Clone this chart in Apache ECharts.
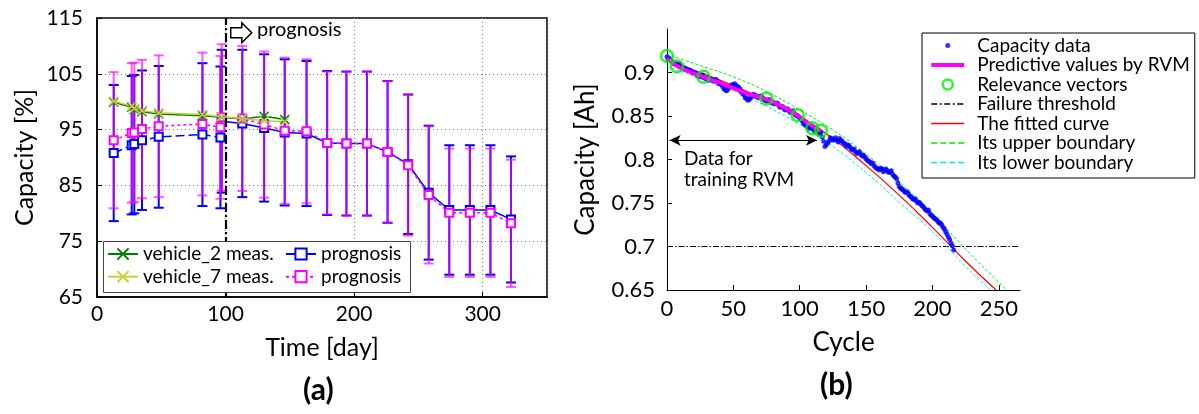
<!DOCTYPE html>
<html><head><meta charset="utf-8">
<script src="https://cdn.jsdelivr.net/npm/echarts@6/dist/echarts.min.js"></script>
<style>html,body{margin:0;padding:0;background:#fff}#c{width:1199px;height:414px}</style>
</head><body><div id="c"></div>
<script>
// ---------- Panel (a) data ----------
const daysMeas = [13, 27, 29, 35, 48, 82, 97, 113, 130, 146];
const v2Meas = [99.9, 99.0, 98.6, 98.2, 97.8, 97.5, 97.2, 96.9, 97.4, 96.8];
const v7Meas = [100.1, 99.2, 98.8, 98.4, 98.0, 97.7, 97.3, 97.0, 96.6, 96.4];
const daysPre = [13, 27, 29, 35, 48, 82, 96];
const bluePre = [90.8, 92.2, 92.4, 93.1, 93.7, 94.1, 93.6];
const bluePreErr = [12.2, 12.4, 12.4, 12.5, 12.7, 12.8, 12.7];
const magPre = [93.1, 94.4, 94.5, 95.1, 95.6, 96.0, 95.4];
const magPreErr = [12.2, 12.5, 12.5, 12.4, 12.7, 12.8, 12.8];
const daysPro = [97, 113, 130, 146, 163, 179, 194, 210, 226, 242, 258, 274, 290, 306, 322];
const bluePro = [96.5, 96.1, 95.3, 94.5, 94.3, 92.6, 92.5, 92.5, 91.0, 88.8, 83.7, 80.6, 80.6, 80.6, 78.9];
const blueProErr = [12.8, 13.2, 13.2, 13.1, 13.0, 12.9, 12.9, 12.9, 12.7, 12.5, 12.0, 11.6, 11.6, 11.6, 11.3];
const magPro = [97.2, 97.0, 95.9, 94.8, 94.7, 92.6, 92.5, 92.5, 91.0, 88.6, 83.3, 80.1, 80.1, 80.1, 78.2];
const magProErr = [13.1, 13.0, 13.1, 13.1, 12.9, 12.8, 12.9, 12.9, 12.7, 12.6, 12.3, 11.5, 11.5, 11.5, 11.4];
const prognosisDay = 100;

// ---------- Panel (b) data ----------
const capCycles = [0,2,4,6,8,10,12,14,16,18,20,22,24,26,28,30,32,34,36,38,40,42,44,46,48,50,52,54,56,58,60,62,64,66,68,70,72,74,76,78,80,82,84,86,88,90,92,94,96,98,100,102,104,106,108,110,112,114,116,118,120,122,124,126,128,130,132,134,136,138,140,142,144,146,148,150,152,154,156,158,160,162,164,166,168,170,172,174,176,178,180,182,184,186,188,190,192,194,196,198,200,202,204,206,208,210,212,214,216];
const capValues = [0.918,0.916,0.912,0.911,0.909,0.908,0.906,0.905,0.903,0.902,0.900,0.899,0.897,0.896,0.894,0.894,0.893,0.892,0.891,0.890,0.888,0.884,0.880,0.881,0.884,0.886,0.885,0.883,0.878,0.874,0.870,0.869,0.873,0.874,0.873,0.872,0.871,0.869,0.868,0.867,0.866,0.864,0.863,0.861,0.859,0.858,0.856,0.855,0.853,0.851,0.848,0.844,0.840,0.838,0.837,0.835,0.834,0.833,0.831,0.821,0.817,0.821,0.824,0.823,0.822,0.824,0.821,0.818,0.817,0.814,0.811,0.809,0.808,0.806,0.805,0.801,0.798,0.795,0.793,0.790,0.788,0.789,0.788,0.787,0.786,0.783,0.780,0.773,0.767,0.765,0.762,0.760,0.757,0.754,0.752,0.751,0.747,0.744,0.741,0.738,0.735,0.732,0.729,0.727,0.722,0.717,0.711,0.704,0.696];
const capCycles2 = [1,3,5,7,9,11,13,15,17,19,21,23,25,27,29,31,33,35,37,39,41,43,45,47,49,51,53,55,57,59,61,63,65,67,69,71,73,75,77,79,81,83,85,87,89,91,93,95,97,99,101,103,105,107,109,111,113,115,117,119,121,123,125,127,129,131,133,135,137,139,141,143,145,147,149,151,153,155,157,159,161,163,165,167,169,171,173,175,177,179,181,183,185,187,189,191,193,195,197,199,201,203,205,207,209,211,213,215];
const capValues2 = [0.915,0.914,0.910,0.909,0.910,0.906,0.904,0.903,0.903,0.900,0.899,0.896,0.895,0.897,0.893,0.891,0.892,0.890,0.892,0.887,0.886,0.881,0.879,0.883,0.886,0.887,0.884,0.881,0.876,0.871,0.868,0.871,0.875,0.872,0.871,0.873,0.869,0.867,0.869,0.865,0.864,0.865,0.860,0.861,0.857,0.858,0.854,0.856,0.851,0.849,0.846,0.841,0.839,0.836,0.838,0.833,0.835,0.830,0.826,0.815,0.819,0.825,0.822,0.825,0.820,0.822,0.819,0.815,0.816,0.812,0.812,0.807,0.809,0.804,0.803,0.799,0.797,0.796,0.791,0.789,0.790,0.786,0.789,0.785,0.787,0.781,0.778,0.769,0.766,0.763,0.763,0.758,0.755,0.755,0.750,0.749,0.746,0.742,0.742,0.736,0.733,0.731,0.727,0.725,0.720,0.714,0.708,0.701];
const rvmCycles = [0, 7, 15, 27, 40, 50, 60, 75, 88, 100, 110, 116];
const rvmValues = [0.916, 0.908, 0.902, 0.895, 0.888, 0.882, 0.876, 0.869, 0.860, 0.849, 0.838, 0.833];
const relCycles = [0, 7.5, 27.5, 75, 98.5, 109.5, 116];
const relValues = [0.919, 0.907, 0.895, 0.870, 0.851, 0.836, 0.833];
const fitCycles = [0, 25, 50, 75, 100, 125, 150, 175, 200, 225, 248];
const fitValues = [0.914, 0.900, 0.885, 0.868, 0.849, 0.824, 0.793, 0.759, 0.722, 0.683, 0.650];
const upCycles = [0, 25, 50, 75, 100, 125, 150, 175, 200, 225, 256];
const upValues = [0.921, 0.908, 0.895, 0.878, 0.857, 0.834, 0.806, 0.774, 0.738, 0.697, 0.650];
const lowCycles = [0, 25, 50, 75, 100, 125, 150, 175, 200, 225, 244];
const lowValues = [0.907, 0.893, 0.879, 0.861, 0.840, 0.815, 0.785, 0.751, 0.717, 0.677, 0.650];
const threshold = 0.7;
const cycleRange = [0, 266];
const trainArrow = {from: 2, to: 113, y: 0.822};

const F = 'Lato, "DejaVu Sans", sans-serif';
const zip = (xs, ys) => xs.map((x, i) => [x, ys[i]]);
const errData = (xs, ys, es) => xs.map((x, i) => [x, ys[i] - es[i], ys[i] + es[i]]);

function errRender(color, opacity) {
  return function (params, api) {
    const x = api.value(0), lo = api.value(1), hi = api.value(2);
    const a = api.coord([x, lo]), b = api.coord([x, hi]);
    const w = 5;
    const st = {stroke: color, lineWidth: 2, opacity: opacity};
    return {type: 'group', children: [
      {type: 'line', shape: {x1: a[0], y1: a[1], x2: b[0], y2: b[1]}, style: st},
      {type: 'line', shape: {x1: a[0] - w, y1: a[1], x2: a[0] + w, y2: a[1]}, style: st},
      {type: 'line', shape: {x1: b[0] - w, y1: b[1], x2: b[0] + w, y2: b[1]}, style: st}
    ]};
  };
}
const XSYM = 'path://M0,0L10,10M10,0L0,10';
const BOX = 'path://M0 0M33 14';
const ICON_SOLID = BOX + 'M0 6.3h33v1.4h-33z';
const ICON_THICK = BOX + 'M0 5h33v4h-33z';
const ICON_DASH = BOX + 'M0 6.3h6v1.4h-6zM9 6.3h6v1.4h-6zM18 6.3h6v1.4h-6zM27 6.3h6v1.4h-6z';
const ICON_DASHDOT = BOX + 'M0 6.2h6v1.6h-6zM8.5 6.2h2v1.6h-2zM13 6.2h6v1.6h-6zM21.5 6.2h2v1.6h-2zM26 6.2h6v1.6h-6z';
const fmt2 = v => String(Math.round(v * 100) / 100);
const legA = {orient: 'vertical', top: 244.5, itemWidth: 30, itemHeight: 14, itemGap: 3.7, padding: 0, z: 10,
  textStyle: {fontSize: 19, color: '#000', fontFamily: F}, formatter: n => n.trim(), selectedMode: false};

const chart = echarts.init(document.getElementById('c'), null, {renderer: 'canvas'});
const option = {
  animation: false,
  textStyle: {fontFamily: F, color: '#000'},
  grid: [
    {left: 97, top: 18, width: 450, height: 279, show: true, borderColor: '#000', borderWidth: 1.5},
    {left: 667, top: 29, width: 353, height: 261}
  ],
  xAxis: [
    {gridIndex: 0, type: 'value', min: 0, max: 350, interval: 100,
     axisLine: {show: true, lineStyle: {color: '#000', width: 1.5}},
     axisTick: {show: true, inside: true, length: 5, lineStyle: {color: '#000'}},
     axisLabel: {color: '#000', fontSize: 21, margin: 7, showMaxLabel: false, fontFamily: F},
     splitLine: {show: true, lineStyle: {color: '#777', type: [1, 3], width: 1}},
     name: 'Time [day]', nameLocation: 'middle', nameGap: 38,
     nameTextStyle: {fontSize: 25, color: '#000', fontFamily: F}},
    {gridIndex: 1, type: 'value', min: cycleRange[0], max: cycleRange[1], interval: 50,
     axisLine: {show: true, onZero: false, lineStyle: {color: '#000', width: 1}},
     axisTick: {show: true, inside: true, length: 5, lineStyle: {color: '#000'}},
     axisLabel: {color: '#000', fontSize: 22, margin: 8, showMaxLabel: false, fontFamily: F},
     splitLine: {show: false},
     name: 'Cycle', nameLocation: 'middle', nameGap: 40,
     nameTextStyle: {fontSize: 26, color: '#000', fontFamily: F}}
  ],
  yAxis: [
    {gridIndex: 0, type: 'value', min: 65, max: 115, interval: 10,
     axisLine: {show: true, lineStyle: {color: '#000', width: 1.5}},
     axisTick: {show: true, inside: true, length: 5, lineStyle: {color: '#000'}},
     axisLabel: {color: '#000', fontSize: 21, margin: 14, fontFamily: F},
     splitLine: {show: true, lineStyle: {color: '#777', type: [1, 3], width: 1}},
     name: 'Capacity [%]', nameLocation: 'middle', nameGap: 60,
     nameTextStyle: {fontSize: 25, color: '#000', fontFamily: F}},
    {gridIndex: 1, type: 'value', min: 0.65, max: 0.95, interval: 0.05,
     axisLine: {show: true, onZero: false, lineStyle: {color: '#000', width: 1}},
     axisTick: {show: true, inside: true, length: 5, lineStyle: {color: '#000'}},
     axisLabel: {color: '#000', fontSize: 22, margin: 12, showMaxLabel: false, hideOverlap: false, fontFamily: F, formatter: fmt2},
     splitLine: {show: false},
     name: 'Capacity [Ah]', nameLocation: 'middle', nameGap: 68,
     nameTextStyle: {fontSize: 26, color: '#000', fontFamily: F}}
  ],
  legend: [
    Object.assign({}, legA, {left: 107, data: ['vehicle_2 meas.', 'vehicle_7 meas.']}),
    Object.assign({}, legA, {left: 285, data: ['prognosis', 'prognosis ']}),
    {orient: 'vertical', left: 922, top: 33, itemWidth: 33, itemHeight: 14, itemGap: 0.5,
     padding: [3, 5, 6, 8], borderColor: '#000', borderWidth: 1, backgroundColor: '#fff', z: 10,
     textStyle: {fontSize: 19, color: '#000', fontFamily: F, padding: [0, 0, 0, 8]},
     selectedMode: false,
     data: [
       {name: 'Capacity data', icon: BOX + 'M14 7a2.5 2.5 0 1 0 5 0a2.5 2.5 0 1 0 -5 0z', itemStyle: {color: '#0000ff', borderWidth: 0}},
       {name: 'Predictive values by RVM', icon: ICON_THICK, itemStyle: {color: '#ff00ff', borderWidth: 0}},
       {name: 'Relevance vectors', icon: BOX + 'M11.5 7a5 5 0 1 0 10 0a5 5 0 1 0 -10 0z', itemStyle: {color: 'transparent', borderColor: '#00ee00', borderWidth: 2.5}},
       {name: 'Failure threshold', icon: ICON_DASHDOT, itemStyle: {color: '#000', borderWidth: 0}},
       {name: 'The fitted curve', icon: ICON_SOLID, itemStyle: {color: '#ff0000', borderWidth: 0}},
       {name: 'Its upper boundary', icon: ICON_DASH, itemStyle: {color: '#00ee00', borderWidth: 0}},
       {name: 'Its lower boundary', icon: ICON_DASH, itemStyle: {color: '#00e5ff', borderWidth: 0}}
     ]}
  ],
  graphic: [
    {type: 'rect', left: 103, top: 241, z: 8, shape: {width: 307, height: 51},
     style: {fill: '#fff', stroke: '#444', lineWidth: 1}},
    {type: 'polygon', left: 230, top: 22, z: 20,
     shape: {points: [[0, 5], [11, 5], [11, 0], [21, 10], [11, 20], [11, 15], [0, 15]]},
     style: {fill: '#fff', stroke: '#000', lineWidth: 1.5}},
    {type: 'text', left: 257, top: 20, z: 20, style: {text: 'prognosis', font: '20px ' + F, fill: '#000'}},
    {type: 'text', left: 684, top: 148, z: 20, style: {text: 'Data for\ntraining RVM', font: '19px ' + F, lineHeight: 21, fill: '#000'}},
    {type: 'text', left: 303, top: 375, z: 20, style: {text: '(a)', font: 'bold 30px ' + F, fill: '#000'}},
    {type: 'text', left: 820, top: 370, z: 20, style: {text: '(b)', font: 'bold 30px ' + F, fill: '#000'}}
  ],
  series: [
    // ----- panel (a) error bars -----
    {type: 'custom', xAxisIndex: 0, yAxisIndex: 0, z: 1, renderItem: errRender('#0000ff', 1), encode: {x: 0, y: [1, 2]}, data: errData(daysPre, bluePre, bluePreErr), silent: true},
    {type: 'custom', xAxisIndex: 0, yAxisIndex: 0, z: 1, renderItem: errRender('#0000ff', 1), encode: {x: 0, y: [1, 2]}, data: errData(daysPro, bluePro, blueProErr), silent: true},
    {type: 'custom', xAxisIndex: 0, yAxisIndex: 0, z: 1, renderItem: errRender('#ff00ff', 0.65), encode: {x: 0, y: [1, 2]}, data: errData(daysPre, magPre, magPreErr), silent: true},
    {type: 'custom', xAxisIndex: 0, yAxisIndex: 0, z: 1, renderItem: errRender('#ff00ff', 0.65), encode: {x: 0, y: [1, 2]}, data: errData(daysPro, magPro, magProErr), silent: true},
    // ----- panel (a) lines -----
    {name: 'vehicle_2 meas.', type: 'line', xAxisIndex: 0, yAxisIndex: 0, z: 4, data: zip(daysMeas, v2Meas),
     symbol: XSYM, symbolSize: 9, itemStyle: {color: '#008000', borderColor: '#008000', borderWidth: 1.5},
     lineStyle: {color: '#008000', width: 1.5},
     markLine: {silent: true, symbol: 'none', label: {show: false}, animation: false,
       lineStyle: {color: '#000', width: 2.2, type: [9, 3, 2, 3]}, data: [{xAxis: prognosisDay}]}},
    {name: 'vehicle_7 meas.', type: 'line', xAxisIndex: 0, yAxisIndex: 0, z: 4, data: zip(daysMeas, v7Meas),
     symbol: XSYM, symbolSize: 9, itemStyle: {color: '#cccc40', borderColor: '#cccc40', borderWidth: 1.5},
     lineStyle: {color: '#cccc40', width: 1.5}},
    {name: 'bluePre', type: 'line', xAxisIndex: 0, yAxisIndex: 0, z: 3, data: zip(daysPre, bluePre),
     symbol: 'emptyRect', symbolSize: 8, itemStyle: {color: '#0000ff', borderWidth: 1.5},
     lineStyle: {color: '#0000ff', width: 1.5, type: [9, 4]}},
    {name: 'prognosis', type: 'line', xAxisIndex: 0, yAxisIndex: 0, z: 3, data: zip(daysPro, bluePro),
     symbol: 'emptyRect', symbolSize: 8, itemStyle: {color: '#0000ff', borderWidth: 1.5},
     lineStyle: {color: '#0000ff', width: 1.5}},
    {name: 'magPre', type: 'line', xAxisIndex: 0, yAxisIndex: 0, z: 3, data: zip(daysPre, magPre),
     symbol: 'emptyRect', symbolSize: 8, itemStyle: {color: '#ff00ff', borderWidth: 1.5},
     lineStyle: {color: '#ff00ff', width: 1.5, type: [3, 3]}},
    {name: 'prognosis ', type: 'line', xAxisIndex: 0, yAxisIndex: 0, z: 3, data: zip(daysPro, magPro),
     symbol: 'emptyRect', symbolSize: 8, itemStyle: {color: '#ff00ff', borderWidth: 1.5},
     lineStyle: {color: '#ff00ff', width: 1.5, type: [3, 3]}},
    // ----- panel (b) -----
    {name: 'Failure threshold', type: 'line', xAxisIndex: 1, yAxisIndex: 1, z: 2,
     data: cycleRange.map(c => [c, threshold]), symbol: 'none',
     lineStyle: {color: '#000', width: 1.2, type: [6, 2, 1.5, 2]}, itemStyle: {color: '#000'},
     markLine: {silent: true, symbol: ['arrow', 'arrow'], symbolSize: [8, 11], label: {show: false}, animation: false,
       lineStyle: {color: '#000', width: 1, type: 'solid'},
       data: [[{coord: [trainArrow.from, trainArrow.y]}, {coord: [trainArrow.to, trainArrow.y]}]]}},
    {name: 'The fitted curve', type: 'line', xAxisIndex: 1, yAxisIndex: 1, z: 2, smooth: true,
     data: zip(fitCycles, fitValues), symbol: 'none', lineStyle: {color: '#ff0000', width: 1.2}, itemStyle: {color: '#ff0000'}},
    {name: 'Its upper boundary', type: 'line', xAxisIndex: 1, yAxisIndex: 1, z: 2, smooth: true,
     data: zip(upCycles, upValues), symbol: 'none', lineStyle: {color: '#00ee00', width: 1, type: [3, 2]}, itemStyle: {color: '#00ee00'}},
    {name: 'Its lower boundary', type: 'line', xAxisIndex: 1, yAxisIndex: 1, z: 2, smooth: true,
     data: zip(lowCycles, lowValues), symbol: 'none', lineStyle: {color: '#00e5ff', width: 1, type: [3, 2]}, itemStyle: {color: '#00e5ff'}},
    {name: 'Capacity data', type: 'scatter', xAxisIndex: 1, yAxisIndex: 1, z: 3,
     data: zip(capCycles, capValues).concat(zip(capCycles2, capValues2)), symbol: 'circle', symbolSize: 5, itemStyle: {color: '#0000ff'}},
    {name: 'Predictive values by RVM', type: 'line', xAxisIndex: 1, yAxisIndex: 1, z: 4, smooth: true,
     data: zip(rvmCycles, rvmValues), symbol: 'none', lineStyle: {color: '#ff00ff', width: 4}, itemStyle: {color: '#ff00ff'}},
    {name: 'Relevance vectors', type: 'scatter', xAxisIndex: 1, yAxisIndex: 1, z: 5,
     data: zip(relCycles, relValues), symbol: 'circle', symbolSize: 12,
     itemStyle: {color: 'transparent', borderColor: '#00ee00', borderWidth: 2.5}}
  ]
};
chart.setOption(option);
</script></body></html>
